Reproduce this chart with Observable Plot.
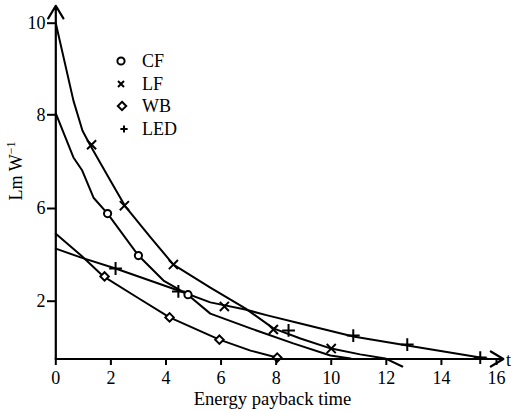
<!DOCTYPE html>
<html><head><meta charset="utf-8">
<script src="https://cdn.jsdelivr.net/npm/d3@7"></script>
<script src="https://cdn.jsdelivr.net/npm/@observablehq/plot@0.6"></script>
<style>
body{margin:0;background:#fff;}
#wrap{position:relative;width:517px;height:412px;font-family:"Liberation Serif","Times New Roman",serif;color:#000;overflow:hidden;}
.lab{position:absolute;font-size:18px;white-space:nowrap;line-height:18px;}
.leg{position:absolute;font-size:18px;white-space:nowrap;line-height:18px;}
.leg svg{position:absolute;top:3px;overflow:visible;}
</style></head><body>
<div id="wrap"></div>
<script>
// Axis tick labels
const xTicks = [0, 2, 4, 6, 8, 10, 12, 14, 16];
const yTicks = [2, 6, 8, 10];
const seriesNames = ["CF", "LF", "WB", "LED"];

// Fitted curves (t = energy payback time, v = Lm W^-1 as labelled)
const lfLineT = [0, 0.64, 0.97, 1.26, 1.98, 2.53, 3.44, 4.27, 5.61, 6.88, 7.9, 8.88, 10.0, 11.05, 11.96, 12.58];
const lfLineV = [10.0, 8.31, 7.66, 7.34, 6.60, 6.04, 4.75, 3.58, 2.59, 1.75, 1.06, 0.71, 0.36, 0.16, 0.02, -0.26];
const cfLineT = [0, 0.64, 0.96, 1.37, 1.88, 3.0, 3.91, 4.78, 5.61, 7.07, 8.62, 9.97, 10.7];
const cfLineV = [8.03, 7.09, 6.81, 6.23, 5.78, 3.97, 2.89, 2.29, 1.57, 1.06, 0.54, 0.12, 0.02];
const wbLineT = [0, 1.0, 1.73, 2.96, 4.13, 5.94, 7.07, 8.16];
const wbLineV = [4.91, 3.89, 3.07, 2.16, 1.44, 0.67, 0.29, 0.02];
const ledLineT = [0, 0.9, 2.17, 4.45, 5.61, 6.88, 7.68, 8.88, 10.8, 12.76, 15.41, 15.7];
const ledLineV = [4.27, 3.89, 3.41, 2.46, 1.96, 1.71, 1.51, 1.23, 0.78, 0.47, 0.05, 0.0];

// Measured points (markers)
const cfMarkT = [1.88, 3.0, 4.8];
const cfMarkV = [5.78, 3.97, 2.28];
const lfMarkT = [1.30, 2.49, 4.27, 6.12, 7.90, 10.0];
const lfMarkV = [7.36, 6.06, 3.58, 1.82, 1.02, 0.36];
const wbMarkT = [1.77, 4.13, 5.94, 8.04];
const wbMarkV = [3.07, 1.44, 0.67, 0.05];
const ledMarkT = [2.17, 4.45, 8.45, 10.8, 12.76, 15.41];
const ledMarkV = [3.41, 2.42, 0.99, 0.81, 0.50, 0.05];

// The printed y axis is not evenly spaced: its labels sit at uneven gaps.
// Map labelled values to an even layout unit (a d3 piecewise linear scale).
const yUnit = d3.scaleLinear().domain([0, 2, 6, 8, 10]).range([0, 57.8, 150.5, 244.2, 335.8]);

// Axis extents (arrow tips)
const xAxisEnd = 16.25;
const yAxisEnd = 10.38;
const axisLines = [
  {x1: 0, y1: 0, x2: xAxisEnd, y2: 0},
  {x1: 0, y1: 0, x2: 0, y2: yAxisEnd}
];

const lineOpts = {stroke: "black", strokeWidth: 2, strokeLinejoin: "round"};
const dotOpts = {stroke: "black", strokeWidth: 2, fill: "white"};
const Y = arr => arr.map(v => yUnit(v));

const chart = Plot.plot({
  width: 517,
  height: 412,
  marginLeft: 55, marginRight: 21, marginTop: 5, marginBottom: 54,
  x: {domain: [0, 16], range: [55.3, 496]},
  y: {domain: [0, 335.8], range: [358.5, 22.7]},
  style: {fontFamily: "'Liberation Serif', 'Times New Roman', serif", fontSize: "18px", color: "black", background: "white"},
  marks: [
    Plot.line(lfLineT, {x: lfLineT, y: Y(lfLineV), ...lineOpts}),
    Plot.line(cfLineT, {x: cfLineT, y: Y(cfLineV), ...lineOpts}),
    Plot.line(wbLineT, {x: wbLineT, y: Y(wbLineV), ...lineOpts}),
    Plot.line(ledLineT, {x: ledLineT, y: Y(ledLineV), ...lineOpts}),
    Plot.dot(cfMarkT, {x: cfMarkT, y: Y(cfMarkV), symbol: "circle", r: 3.6, ...dotOpts}),
    Plot.dot(lfMarkT, {x: lfMarkT, y: Y(lfMarkV), symbol: "times", r: 4.2, ...dotOpts}),
    Plot.dot(wbMarkT, {x: wbMarkT, y: Y(wbMarkV), symbol: "diamond2", r: 3.8, ...dotOpts}),
    Plot.dot(ledMarkT, {x: ledMarkT, y: Y(ledMarkV), symbol: "plus", r: 4.2, ...dotOpts}),
    Plot.axisX({ticks: xTicks, tickSize: 7, tickPadding: 6, strokeWidth: 2, label: null, tickFormat: d => String(d), fontSize: 18}),
    Plot.axisY({ticks: Y(yTicks), tickSize: 8, tickPadding: 2, strokeWidth: 2, label: null,
      tickFormat: u => String(Math.round(yUnit.invert(u))), fontSize: 18}),
    Plot.arrow(axisLines, {x1: "x1", y1: d => yUnit(d.y1), x2: "x2", y2: d => yUnit(d.y2),
      stroke: "black", strokeWidth: 2.2, headLength: 10, headAngle: 62})
  ]
});

const wrap = document.getElementById("wrap");
wrap.appendChild(chart);

function addLabel(html, style) {
  const d = document.createElement("div");
  d.className = "lab";
  d.innerHTML = html;
  Object.assign(d.style, style);
  wrap.appendChild(d);
  return d;
}
addLabel("Energy payback time", {left: "272.5px", top: "389.5px", fontSize: "18.6px", transform: "translateX(-50%)"});
addLabel("t", {left: "506px", top: "351px"});
addLabel("Lm W<sup style='font-size:12px;vertical-align:7px;line-height:0'>&minus;1</sup>",
  {left: "16px", top: "171px", transform: "translate(-50%,-50%) rotate(-90deg)"});

// Legend
const symbols = {
  CF: "<circle cx='6' cy='6' r='3.6' fill='white' stroke='black' stroke-width='2'/>",
  LF: "<path d='M3,3L9,9M9,3L3,9' stroke='black' stroke-width='2'/>",
  WB: "<path d='M6,1.8L10.2,6L6,10.2L1.8,6Z' fill='white' stroke='black' stroke-width='2'/>",
  LED: "<path d='M6,2.4V9.6M2.4,6H9.6' stroke='black' stroke-width='2'/>"
};
const legendTop = [52, 74.5, 97, 119.5];
const legendSymX = [0, 0, 1, 3];
seriesNames.forEach((name, i) => {
  const d = document.createElement("div");
  d.className = "leg";
  d.style.left = "142px";
  d.style.top = legendTop[i] + "px";
  d.innerHTML = `<svg width="12" height="12" style="left:${-27 + legendSymX[i]}px">${symbols[name]}</svg>${name}`;
  wrap.appendChild(d);
});
</script>
</body></html>
